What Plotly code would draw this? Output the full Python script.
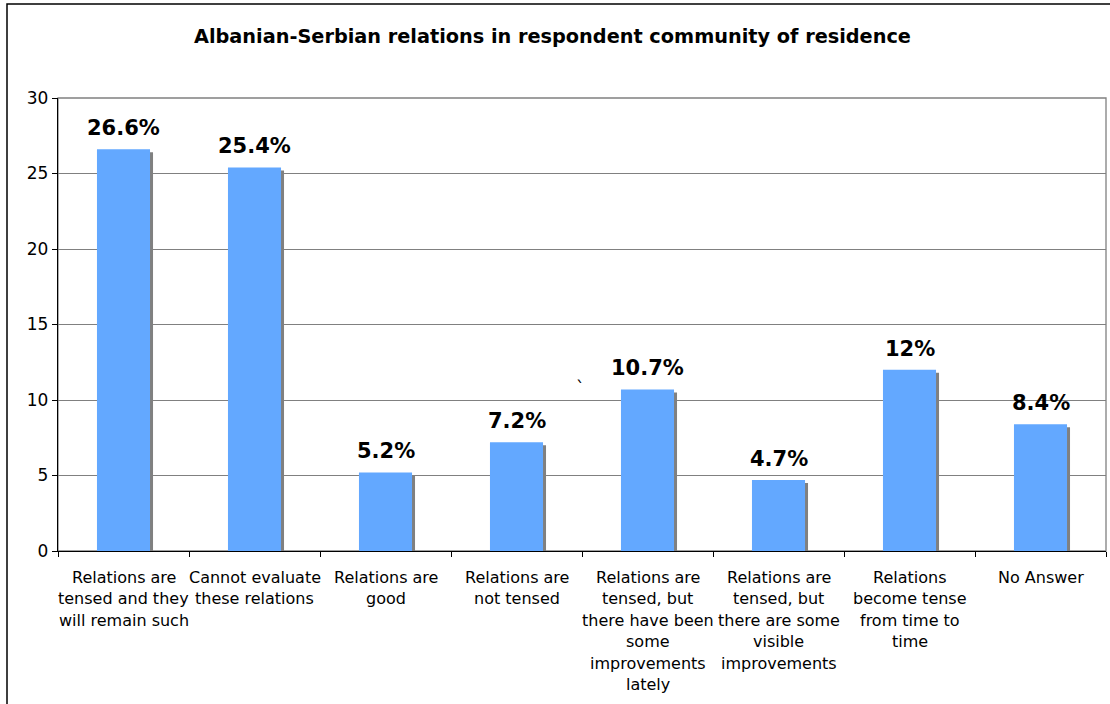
import plotly.graph_objects as go

categories = [
    "Relations are tensed and they will remain such",
    "Cannot evaluate these relations",
    "Relations are good",
    "Relations are not tensed",
    "Relations are tensed, but there have been some improvements lately",
    "Relations are tensed, but there are some visible improvements",
    "Relations become tense from time to time",
    "No Answer",
]
tick_lines = [
    ["Relations are", "tensed and they", "will remain such"],
    ["Cannot evaluate", "these relations"],
    ["Relations are", "good"],
    ["Relations are", "not tensed"],
    ["Relations are", "tensed, but", "there have been", "some", "improvements", "lately"],
    ["Relations are", "tensed, but", "there are some", "visible", "improvements"],
    ["Relations", "become tense", "from time to", "time"],
    ["No Answer"],
]
values = [26.6, 25.4, 5.2, 7.2, 10.7, 4.7, 12.0, 8.4]
value_labels = ["26.6%", "25.4%", "5.2%", "7.2%", "10.7%", "4.7%", "12%", "8.4%"]
y_ticks = [0, 5, 10, 15, 20, 25, 30]
title_text = "Albanian-Serbian relations in respondent community of residence"

FONT = "DejaVu Sans, Verdana, sans-serif"
BAR_W = 0.405
shadow_dx = 3 / 131.0
shadow_dy = 30 * 3 / 453.0

fig = go.Figure()
fig.add_trace(go.Bar(
    x=categories, y=[v - shadow_dy for v in values],
    width=BAR_W, offset=-BAR_W / 2 + shadow_dx,
    marker=dict(color="#808080", line=dict(width=0)),
    hoverinfo="skip", showlegend=False,
))
fig.add_trace(go.Bar(
    x=categories, y=values,
    width=BAR_W, offset=-BAR_W / 2,
    marker=dict(color="#63A8FF", line=dict(width=0)),
    showlegend=False,
))

annotations = []
for c, v, lab in zip(categories, values, value_labels):
    annotations.append(dict(
        x=c, y=v, xref="x", yref="y", text="<b>%s</b>" % lab,
        showarrow=False, yanchor="middle", yshift=21,
        font=dict(family=FONT, size=21, color="#000000"),
    ))
for c, lines in zip(categories, tick_lines):
    for i, ln in enumerate(lines):
        annotations.append(dict(
            x=c, y=0, xref="x", yref="paper", text=ln,
            showarrow=False, yanchor="middle", yshift=-26 - 21.5 * i,
            font=dict(family=FONT, size=16, color="#000000"),
        ))
# stray mark present in the original chart
annotations.append(dict(
    x=4, y=10.2, xref="x", yref="y", text="`", showarrow=False,
    xshift=-67, yshift=-3, yanchor="bottom",
    font=dict(family=FONT, size=17, color="#000000"),
))
annotations.append(dict(
    x=0.5, y=1, xref="paper", yref="paper", text="<b>%s</b>" % title_text,
    showarrow=False, yanchor="middle", yshift=62, xshift=-30,
    font=dict(family=FONT, size=19.3, color="#000000"),
))

fig.update_layout(
    width=1110, height=704,
    margin=dict(l=58, r=4, t=98, b=153),
    paper_bgcolor="#FFFFFF", plot_bgcolor="#FFFFFF",
    barmode="overlay", bargap=0.6,
    font=dict(family=FONT, size=17, color="#000000"),
    annotations=annotations,
    shapes=[
        dict(type="rect", xref="paper", yref="paper", x0=0, x1=1, y0=0, y1=1,
             line=dict(color="#808080", width=1.3), layer="below"),
        dict(type="rect", xref="paper", yref="paper",
             x0=-51 / 1048, x1=1.05, y0=-0.5, y1=1 + 94 / 453,
             line=dict(color="#000000", width=1.5), layer="below"),
    ],
    xaxis=dict(
        type="category", range=[-0.5, 7.5], showticklabels=False,
        ticks="outside", ticklen=5, tickcolor="#000000", tickson="boundaries",
        showline=True, linecolor="#000000", linewidth=1.3,
        showgrid=False, zeroline=False,
    ),
    yaxis=dict(
        range=[0, 30], tickvals=y_ticks, ticks="outside", ticklen=5,
        tickcolor="#000000", showline=True, linecolor="#000000", linewidth=1.3,
        showgrid=True, gridcolor="#808080", gridwidth=1.3, zeroline=False,
        tickfont=dict(family=FONT, size=17, color="#000000"),
    ),
)

fig.write_html("out.html", config={"displayModeBar": False},
               post_script="document.body.style.margin='0';")
